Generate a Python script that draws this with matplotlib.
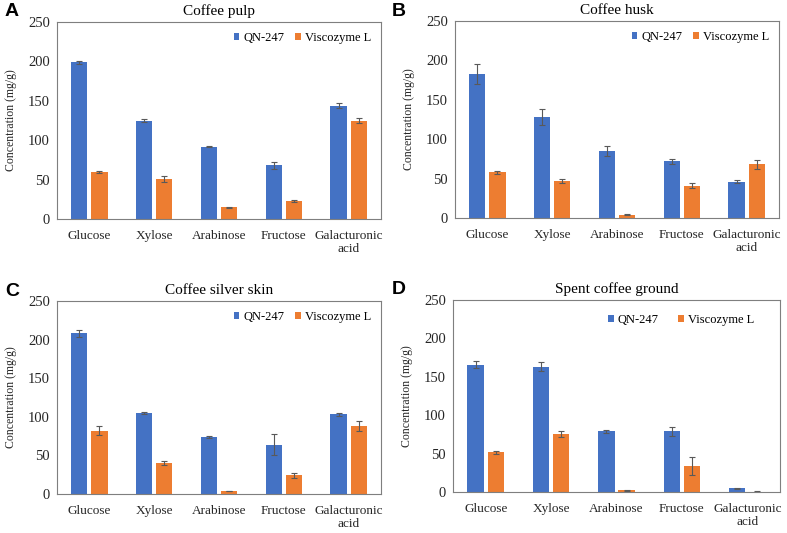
import numpy as np
import matplotlib.pyplot as plt

sugars = ['Glucose', 'Xylose', 'Arabinose', 'Fructose', 'Galacturonic\nacid']
titles = ['Coffee pulp', 'Coffee husk', 'Coffee silver skin', 'Spent coffee ground']
letters = ['A', 'B', 'C', 'D']

qn = [[199, 125, 92, 68, 144],
      [183, 128, 85, 72, 46],
      [208, 105, 74, 64, 103],
      [166, 163, 79, 79, 5]]
qn_err = [[2, 2, 1, 4, 3],
          [13, 10, 6, 3, 2],
          [4, 1, 1, 14, 2],
          [5, 6, 2, 6, 0.5]]
visc = [[60, 51, 15, 23, 125],
        [58, 47, 4, 41, 68],
        [82, 40, 4, 24, 88],
        [52, 75, 2, 34, 0.5]]
visc_err = [[1, 4, 0.5, 1.5, 3],
            [2, 3, 0.5, 3, 6],
            [6, 3, 0.5, 3, 7],
            [2, 4, 1, 12, 0.3]]

plt.rcParams['font.family'] = ['Liberation Serif', 'DejaVu Serif']

fig = plt.figure(figsize=(7.87, 5.33), dpi=100)
W, H = 787, 533
# axes boxes in pixels: left, right, top, bottom
boxes = [(57, 381, 22, 219), (455, 779, 21, 218),
         (57, 381, 301, 494), (453, 780, 300, 492)]

x = np.arange(len(sugars))
bw = 0.25
ekw = dict(ecolor='#595959', elinewidth=0.8, capsize=2.5, capthick=0.8)
for i in range(4):
    l, r, t, b = boxes[i]
    ax = fig.add_axes([l / W, 1 - b / H, (r - l) / W, (b - t) / H])
    ax.bar(x - 0.155, qn[i], bw, color='#4472C4', label='QN-247',
           yerr=qn_err[i], error_kw=ekw)
    ax.bar(x + 0.155, visc[i], bw, color='#ED7D31', label='Viscozyme L',
           yerr=visc_err[i], error_kw=ekw)
    ax.set_xlim(-0.5, 4.5)
    ax.set_ylim(0, 250)
    ax.set_yticks([0, 50, 100, 150, 200, 250])
    ax.set_xticks(x)
    ax.set_xticklabels(sugars, fontsize=9.5, linespacing=1.05)
    ax.tick_params(axis='x', length=0, labelsize=9.5, colors='#262626', pad=8)
    ax.tick_params(axis='y', length=0, labelsize=10.5, colors='#262626', pad=5)
    for s in ax.spines.values():
        s.set_color('#7f7f7f')
        s.set_linewidth(0.8)
    ax.set_ylabel('Concentration (mg/g)', fontsize=8.5, color='#262626', labelpad=8)
    ax.set_title(titles[i], fontsize=11, pad=5)
    if i == 3:
        ax.legend(loc='upper right', bbox_to_anchor=(0.955, 0.985), frameon=False,
                  fontsize=9, ncol=2, handlelength=0.45, handleheight=0.45,
                  handletextpad=0.3, columnspacing=1.6)
    else:
        ax.legend(loc='upper right', frameon=False, fontsize=9, ncol=2,
                  handlelength=0.45, handleheight=0.45, handletextpad=0.3,
                  columnspacing=0.9, borderaxespad=0.4)
    fig.text((5 if l < 400 else 392) / W, 1 - (t - 10) / H, letters[i],
             fontsize=14, fontweight='bold', family='Liberation Sans', va='center')

fig.savefig('out.png', dpi=100)
